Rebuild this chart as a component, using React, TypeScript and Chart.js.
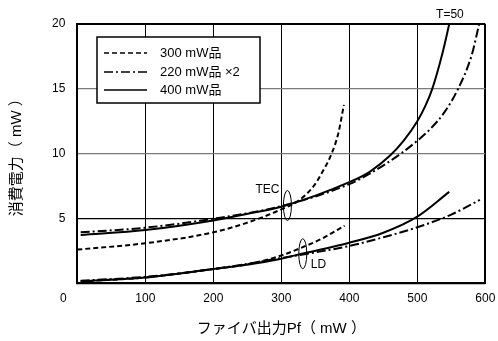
import React, { useEffect, useRef } from "react";
import { Chart, registerables } from "chart.js";

Chart.register(...registerables);

// ---- data (x: fiber output Pf [mW], y: power consumption [mW]) ----
const xTicks = [0, 100, 200, 300, 400, 500, 600];
const yTicks = [0, 5, 10, 15, 20];

const seriesNames = ["300 mW品", "220 mW品 ×2", "400 mW品"];

// TEC curves
const tec300: [number, number][] = [[0, 2.6], [100, 3.09], [200, 3.93], [254, 4.75], [300, 5.7], [323, 6.3], [347, 7.45], [360, 8.55], [374, 10], [384, 11.6], [392, 13.76]];
const tec220: [number, number][] = [[5, 3.93], [100, 4.29], [200, 4.98], [300, 5.95], [400, 7.65], [430, 8.45], [477, 10.05], [500, 11.0], [520, 11.95], [540, 13.2], [560, 15], [580, 17.6], [591, 20]];
const tec400: [number, number][] = [[5, 3.73], [100, 4.11], [200, 4.85], [254, 5.4], [300, 5.9], [400, 7.8], [430, 8.6], [460, 9.85], [480, 11.0], [500, 12.5], [512, 13.7], [522, 15], [537, 17.75], [547, 20]];

// LD curves
const ld300: [number, number][] = [[5, 0.15], [100, 0.45], [200, 1.1], [254, 1.5], [300, 2.15], [332, 2.8], [360, 3.45], [393, 4.45]];
const ld220: [number, number][] = [[5, 0.2], [100, 0.5], [200, 1.1], [300, 1.95], [400, 2.88], [450, 3.55], [500, 4.32], [550, 5.3], [592, 6.43]];
const ld400: [number, number][] = [[5, 0.15], [100, 0.45], [200, 1.1], [254, 1.47], [300, 1.9], [332, 2.3], [400, 3.13], [450, 3.9], [500, 5.14], [547, 7.05]];

// annotation anchors (data coords)
const tecMark = { x: 309, y: 6.0, label: "TEC" };
const ldMark = { x: 331.6, y: 2.28, label: "LD" };
const tempLabel = { x: 548, text: "T=50" };

const DASHED = [5, 3];
const DASHDOT = [9, 3, 2, 3];
const dashes = [DASHED, DASHDOT, []];
const FONT = "'Liberation Sans', Arial, 'Noto Sans CJK JP', sans-serif";

const toPts = (a: [number, number][]) => a.map(([x, y]) => ({ x, y }));

const mk = (data: [number, number][], dash: number[]) => ({
  data: toPts(data),
  borderColor: "#000",
  borderWidth: 2,
  borderDash: dash,
  pointRadius: 0,
  fill: false,
  cubicInterpolationMode: "monotone" as const,
});

const overlay = {
  id: "overlay",
  afterDraw(chart: any) {
    const { ctx, chartArea, scales } = chart;
    const xs = scales.x, ys = scales.y;
    ctx.save();
    ctx.fillStyle = "#000";
    ctx.strokeStyle = "#000";
    // corner "0"
    ctx.font = `12px ${FONT}`;
    ctx.textAlign = "center";
    ctx.textBaseline = "top";
    ctx.fillText("0", chartArea.left - 14, chartArea.bottom + 9);

    // legend
    const bx = 97, by = 37, bw = 163, bh = 66;
    ctx.fillStyle = "#fff";
    ctx.fillRect(bx, by, bw, bh);
    ctx.lineWidth = 1.5;
    ctx.setLineDash([]);
    ctx.strokeRect(bx, by, bw, bh);
    const rows = [53, 72, 90];
    ctx.font = `13px ${FONT}`;
    ctx.textAlign = "left";
    ctx.textBaseline = "middle";
    rows.forEach((ry, i) => {
      ctx.setLineDash(dashes[i]);
      ctx.lineWidth = 1.5;
      ctx.beginPath();
      ctx.moveTo(104, ry);
      ctx.lineTo(147, ry);
      ctx.stroke();
      ctx.fillStyle = "#000";
      ctx.fillText(seriesNames[i], 160, ry);
    });
    ctx.setLineDash([]);

    // ellipses + labels
    ctx.lineWidth = 1;
    const drawMark = (m: any, left: boolean) => {
      const cx = xs.getPixelForValue(m.x), cy = ys.getPixelForValue(m.y);
      ctx.beginPath();
      ctx.ellipse(cx, cy, 4, 15, 0, 0, Math.PI * 2);
      ctx.stroke();
      ctx.font = `12px ${FONT}`;
      ctx.textBaseline = "middle";
      if (left) {
        ctx.textAlign = "right";
        ctx.fillText(m.label, cx - 8, cy - 16);
      } else {
        ctx.textAlign = "left";
        ctx.fillText(m.label, cx + 8, cy + 11);
      }
    };
    drawMark(tecMark, true);
    drawMark(ldMark, false);

    ctx.font = `12px ${FONT}`;
    ctx.textAlign = "center";
    ctx.textBaseline = "middle";
    ctx.fillText(tempLabel.text, xs.getPixelForValue(tempLabel.x), chartArea.top - 9);
    ctx.restore();
  },
};

export default function App() {
  const ref = useRef<HTMLCanvasElement>(null);
  useEffect(() => {
    document.body.style.margin = "0";
    const c = ref.current!;
    const chart = new Chart(c, {
      type: "line",
      data: {
        datasets: [
          mk(tec300, DASHED), mk(tec220, DASHDOT), mk(tec400, []),
          mk(ld300, DASHED), mk(ld220, DASHDOT), mk(ld400, []),
        ],
      },
      options: {
        responsive: false,
        animation: false,
        layout: { padding: { left: 0, right: 12.7, top: 24, bottom: 0 } },
        plugins: { legend: { display: false }, tooltip: { enabled: false } },
        scales: {
          x: {
            type: "linear",
            min: 0,
            max: 600,
            afterBuildTicks: (s: any) => { s.ticks = xTicks.map((v) => ({ value: v })); },
            afterFit: (s: any) => { s.height = 341 - 283.3; s.paddingLeft = 0; s.paddingRight = 0; },
            ticks: {
              color: "#000",
              font: { family: FONT, size: 12 },
              padding: 8,
              maxRotation: 0,
              callback: (v: any) => (v === 0 ? "" : String(v)),
            },
            grid: {
              color: "#000",
              lineWidth: (c: any) => (c.tick && c.tick.value === 600 ? 2 : 1),
              drawTicks: false,
            },
            border: { display: true, color: "#000", width: 2 },
            title: {
              display: true,
              text: "ファイバ出力Pf（ mW ）",
              color: "#000",
              font: { family: FONT, size: 15 },
              padding: { top: 0, bottom: 3 },
            },
          },
          y: {
            type: "linear",
            min: 0,
            max: 20,
            afterBuildTicks: (s: any) => { s.ticks = yTicks.map((v) => ({ value: v })); },
            afterFit: (s: any) => { s.width = 77.3; s.paddingTop = 0; s.paddingBottom = 0; },
            ticks: {
              color: "#000",
              font: { family: FONT, size: 12 },
              padding: 12,
              callback: (v: any) => (v === 0 ? "" : String(v)),
            },
            grid: {
              color: (c: any) => (c.tick && (c.tick.value === 10 || c.tick.value === 15) ? "#7a7a7a" : "#000"),
              lineWidth: (c: any) => (c.tick && c.tick.value === 20 ? 2 : 1.2),
              drawTicks: false,
            },
            border: { display: true, color: "#000", width: 2 },
            title: {
              display: true,
              text: "消費電力（ mW ）",
              color: "#000",
              font: { family: FONT, size: 15 },
              padding: { top: 8, bottom: 0 },
            },
          },
        },
      },
      plugins: [overlay],
    });
    return () => chart.destroy();
  }, []);
  return (
    <div style={{ width: 498, height: 341 }}>
      <canvas ref={ref} width={498} height={341} />
    </div>
  );
}
